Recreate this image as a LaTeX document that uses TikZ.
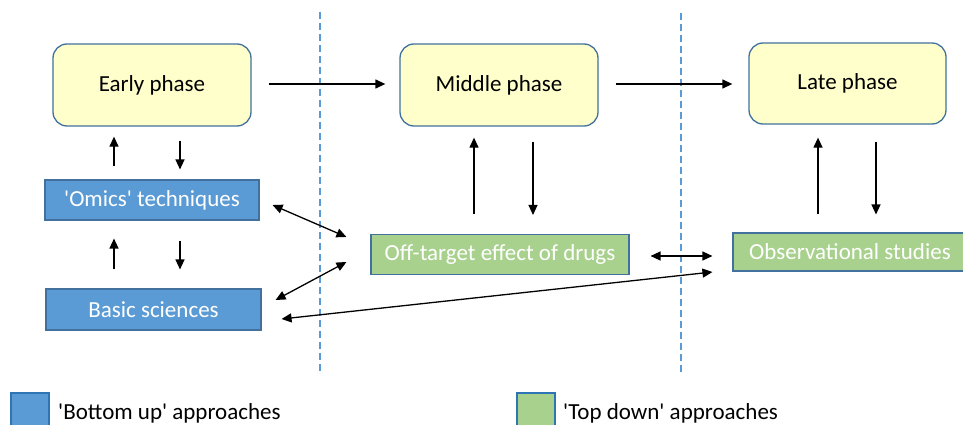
\documentclass[tikz,border=0pt]{standalone}
\usepackage{fontspec}
\setmainfont{Carlito}
\usetikzlibrary{arrows.meta,calc}
\definecolor{phasefill}{HTML}{FFFFCC}
\definecolor{edgeblue}{HTML}{41719C}
\definecolor{bluefill}{HTML}{5B9BD5}
\definecolor{greenfill}{HTML}{A9D18E}
\definecolor{legedge}{HTML}{2E75B6}
\newcommand{\sq}{\textquotesingle}
\tikzset{
  phasebox/.style={draw=edgeblue, line width=1.3pt, fill=phasefill, rounded corners=14pt, inner sep=0pt, align=center},
  bluebox/.style={draw=edgeblue, line width=1.1pt, fill=bluefill, text=white, inner sep=0pt},
  greenbox/.style={draw=edgeblue, line width=1.1pt, fill=greenfill, text=white, inner sep=0pt},
  legbox/.style={draw=legedge, line width=2pt, minimum width=38pt, minimum height=38pt, inner sep=0pt},
  arr/.style={line width=1.3pt, -{Triangle[length=10pt,width=9pt]}},
  darr/.style={line width=1.3pt, {Triangle[length=10pt,width=9pt]}-{Triangle[length=10pt,width=9pt]}},
  sep/.style={draw=bluefill, line width=1.1pt, dash pattern=on 7pt off 4pt},
}
\begin{document}
\begin{tikzpicture}[x=1pt,y=-1pt, font=\fontsize{23}{27}\selectfont]
\clip (0,0) rectangle (963,425);
\fill[white] (0,0) rectangle (963,425);
% separators
\draw[sep] (320,12) -- (320,373);
\draw[sep] (681,13) -- (681,375);
% phase boxes
\node[phasebox, minimum width=198pt, minimum height=82pt] (early) at (152,85) {Early phase};
\node[phasebox, minimum width=198pt, minimum height=82pt] (middle) at (499,85) {Middle phase};
\node[phasebox, minimum width=197pt, minimum height=81pt] (late) at (847.5,83.5) {Late phase};
% approach boxes
\node[bluebox, minimum width=214pt, minimum height=40pt] (omics) at (152,200) {\sq Omics\sq{} techniques};
\node[bluebox, minimum width=215pt, minimum height=41pt] (basic) at (153.5,309.5) {Basic sciences};
\node[greenbox, minimum width=258pt, minimum height=40pt] (off) at (500,254.5) {Off-target effect of drugs};
\node[greenbox, minimum width=234pt, minimum height=38pt] (obs) at (850,252) {Observational studies};
% horizontal phase arrows
\draw[arr] ($(early.east)+(17,-1)$) -- ($(middle.west)+(-14,-1)$);
\draw[arr] ($(middle.east)+(17,-1)$) -- ($(late.west)+(-16,0.5)$);
% vertical arrows
\draw[arr] ($(omics.north)+(-38,-13)$) -- ($(early.south)+(-38,10)$);
\draw[arr] ($(early.south)+(28,14)$) -- ($(omics.north)+(28,-10)$);
\draw[arr] ($(basic.north)+(-39.5,-19)$) -- ($(omics.south)+(-38,18)$);
\draw[arr] ($(omics.south)+(28,20)$) -- ($(basic.north)+(26.5,-19)$);
\draw[arr] ($(off.north)+(-26,-20)$) -- ($(middle.south)+(-25,11)$);
\draw[arr] ($(middle.south)+(34,15)$) -- ($(off.north)+(33,-19)$);
\draw[arr] ($(obs.north)+(-32,-18)$) -- ($(late.south)+(-29.5,13)$);
\draw[arr] ($(late.south)+(28.5,17)$) -- ($(obs.north)+(26,-18)$);
% cross links
\draw[darr] ($(omics.east)+(13,5)$) -- ($(off.west)+(-24,-17.5)$);
\draw[darr] ($(basic.east)+(14,-9.5)$) -- ($(off.west)+(-24,7.5)$);
\draw[darr] ($(basic.east)+(20,9.5)$) -- ($(obs.west)+(-20,20)$);
\draw[darr] ($(off.east)+(21,1.5)$) -- ($(obs.west)+(-20,4)$);
% legend
\node[legbox, fill=bluefill] (legb) at (29.5,411.5) {};
\node[anchor=base west, inner sep=0pt] (legbt) at (58,419.5) {\sq Bottom up\sq{} approaches};
\node[legbox, fill=greenfill] (legg) at (535.5,411.5) {};
\node[anchor=base west, inner sep=0pt] (leggt) at (563,419.5) {\sq Top down\sq{} approaches};
\end{tikzpicture}
\end{document}
